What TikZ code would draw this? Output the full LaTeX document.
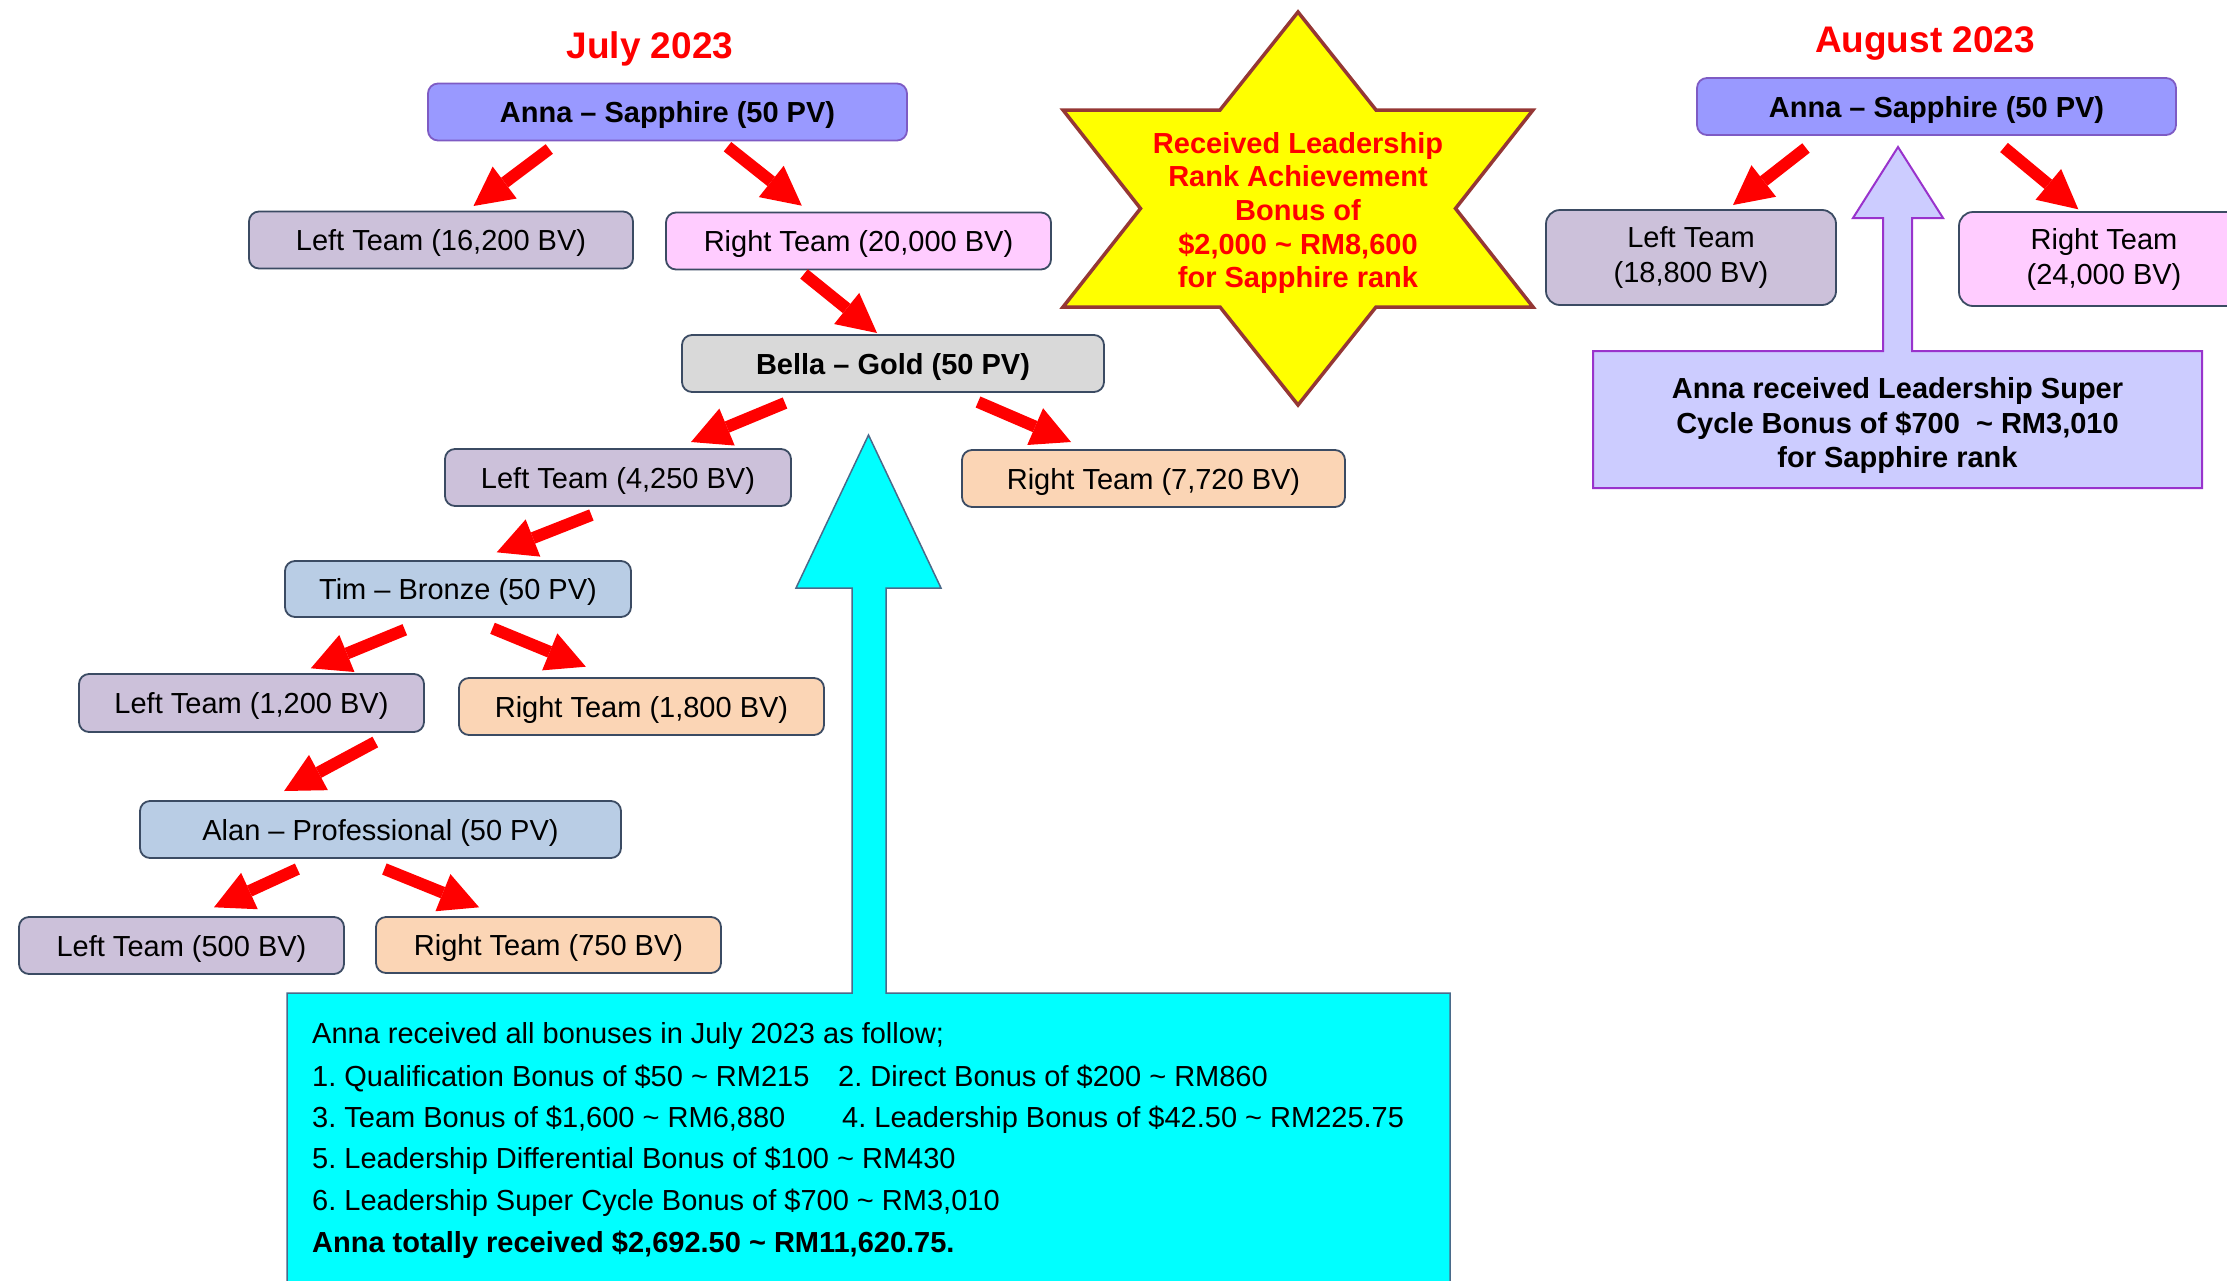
\documentclass[tikz,border=0pt]{standalone}
\usepackage{fontspec}
\setmainfont{Liberation Sans}
\usetikzlibrary{arrows.meta}
\frenchspacing
\definecolor{redA}{HTML}{FF0000}
\definecolor{annaF}{HTML}{9999FF}
\definecolor{annaL}{HTML}{7E5BC4}
\definecolor{leftF}{HTML}{CCC1DA}
\definecolor{pinkF}{HTML}{FFCCFF}
\definecolor{grayF}{HTML}{D9D9D9}
\definecolor{peachF}{HTML}{FBD5B5}
\definecolor{blueF}{HTML}{B9CDE5}
\definecolor{boxL}{HTML}{3B4B63}
\definecolor{cyanF}{HTML}{00FFFF}
\definecolor{cyanL}{HTML}{4A6A8A}
\definecolor{lavF}{HTML}{CCCCFF}
\definecolor{lavL}{HTML}{9933CC}
\definecolor{starF}{HTML}{FFFF00}
\definecolor{starL}{HTML}{953735}
\newcommand\fsn{\fontsize{29}{35}\selectfont}
\newcommand\fst{\fontsize{37}{44}\selectfont}
\begin{document}
\begin{tikzpicture}[x=1pt,y=-1pt,
  box/.style={draw=boxL, line width=1.8pt, rounded corners=10pt, inner sep=0pt,
    minimum height=57pt, font=\fsn, text height=21pt, text depth=0pt},
  box2/.style={draw=boxL, line width=1.8pt, rounded corners=14pt, inner sep=0pt,
    font=\fsn, align=center, minimum height=95pt, minimum width=290pt},
  annabox/.style={box, draw=annaL, fill=annaF, font=\fsn\bfseries, minimum width=479pt},
  title/.style={font=\fst\bfseries, text=redA, anchor=base, inner sep=0pt},
  txt/.style={font=\fsn, inner sep=0pt, anchor=base west},
  redarrow/.style={draw=redA, line width=12pt,
    -{Triangle[width=40pt,length=39pt,line width=0pt]}}
]
\useasboundingbox (0,0) rectangle (2227,1280);

% titles
\node[title] (julyT) at (650,58) {July 2023};
\node[title] (augT) at (1925,52) {August 2023};

% July tree
\node[annabox] (annaJ) at (667.5,112) {Anna -- Sapphire (50 PV)};
\node[box, fill=leftF, minimum width=384pt] (left1) at (441,240) {Left Team (16,200 BV)};
\node[box, fill=pinkF, minimum width=385pt] (right1) at (858.5,241) {Right Team (20,000 BV)};
\node[box, fill=grayF, minimum width=422pt, font=\fsn\bfseries] (bella) at (893,363.5) {Bella -- Gold (50 PV)};
\node[box, fill=leftF, minimum width=346pt] (left2) at (618,477.5) {Left Team (4,250 BV)};
\node[box, fill=peachF, minimum width=383pt] (right2) at (1153.5,478.5) {Right Team (7,720 BV)};
\node[box, fill=blueF, minimum width=346pt, minimum height=56pt] (tim) at (458,589) {Tim -- Bronze (50 PV)};
\node[box, fill=leftF, minimum width=345pt, minimum height=58pt] (left3) at (251.5,703) {Left Team (1,200 BV)};
\node[box, fill=peachF, minimum width=365pt] (right3) at (641.5,706.5) {Right Team (1,800 BV)};
\node[box, fill=blueF, minimum width=481pt] (alan) at (380.5,829.5) {Alan -- Professional (50 PV)};
\node[box, fill=leftF, minimum width=325pt] (left4) at (181.5,945.5) {Left Team (500 BV)};
\node[box, fill=peachF, minimum width=345pt, minimum height=56pt] (right4) at (548.5,945) {Right Team (750 BV)};

% August tree
\node[annabox] (annaA) at (1936.5,106.5) {Anna -- Sapphire (50 PV)};
\node[box2, fill=leftF] (leftA) at (1691,257.5) {Left Team\\(18,800 BV)};
\node[box2, fill=pinkF, minimum height=94pt] (rightA) at (2104,259) {Right Team\\(24,000 BV)};

% red arrows
\coordinate (a1s) at (549.3,149); \coordinate (a1e) at (473.5,206);
\coordinate (a2s) at (727.5,146.7); \coordinate (a2e) at (801.8,205.7);
\coordinate (a3s) at (804,274); \coordinate (a3e) at (877,333);
\coordinate (a4s) at (785,403); \coordinate (a4e) at (691,442);
\coordinate (a5s) at (978,402); \coordinate (a5e) at (1071,442);
\coordinate (a6s) at (591.4,515); \coordinate (a6e) at (496.7,552.3);
\coordinate (a7s) at (404.8,629.7); \coordinate (a7e) at (310.8,668.3);
\coordinate (a8s) at (492.5,628.3); \coordinate (a8e) at (585.8,666.7);
\coordinate (a9s) at (375.3,742); \coordinate (a9e) at (284.1,791);
\coordinate (a10s) at (297.4,869); \coordinate (a10e) at (214,907.3);
\coordinate (a11s) at (384.4,869); \coordinate (a11e) at (479.1,907.3);
\coordinate (a12s) at (1806,148); \coordinate (a12e) at (1733,205);
\coordinate (a13s) at (2004,147.5); \coordinate (a13e) at (2078.3,209.3);
\foreach \i in {1,...,13} {\draw[redarrow] (a\i s) -- (a\i e);}

% star
\path[fill=starF, draw=starL, line width=3.5pt, line join=miter]
  (1298,12) -- (1376,110) -- (1533,110) -- (1455.5,208.5) -- (1533,307) -- (1376,307)
  -- (1298,405) -- (1220,307) -- (1063,307) -- (1140.5,208.5) -- (1063,110) -- (1220,110) -- cycle;
\node[font=\fsn\bfseries, text=redA, align=center, inner sep=0pt,
  execute at begin node={\setlength{\baselineskip}{33.7pt}}] (starT) at (1298,213)
  {Received Leadership\\Rank Achievement\\Bonus of\\\$2,000 \textasciitilde{} RM8,600\\for Sapphire rank};

% lavender box with up arrow
\path[fill=lavF, draw=lavL, line width=2pt]
  (1593,351) -- (1883,351) -- (1883,218) -- (1853,218) -- (1898,147) -- (1943,218)
  -- (1912,218) -- (1912,351) -- (2202,351) -- (2202,488) -- (1593,488) -- cycle;
\node[font=\fsn\bfseries, align=center, inner sep=0pt,
  execute at begin node={\setlength{\baselineskip}{34.7pt}}] (lavT) at (1897.5,425.7)
  {Anna received Leadership Super\\Cycle Bonus of \$700\ \ \textasciitilde{} RM3,010\\for Sapphire rank};

% cyan box with up arrow
\path[fill=cyanF, draw=cyanL, line width=1.5pt]
  (287,1300) -- (287,993) -- (852,993) -- (852,588) -- (796,588) -- (868.5,435)
  -- (941,588) -- (886,588) -- (886,993) -- (1450,993) -- (1450,1300);
\node[txt] (c1) at (312,1043) {Anna received all bonuses in July 2023 as follow;};
\node[txt] (c2a) at (312,1086) {1. Qualification Bonus of \$50 \textasciitilde{} RM215};
\node[txt] (c2b) at (838,1086) {2. Direct Bonus of \$200 \textasciitilde{} RM860};
\node[txt] (c3a) at (312,1127) {3. Team Bonus of \$1,600 \textasciitilde{} RM6,880};
\node[txt] (c3b) at (842,1127) {4. Leadership Bonus of \$42.50 \textasciitilde{} RM225.75};
\node[txt] (c4) at (312,1168) {5. Leadership Differential Bonus of \$100 \textasciitilde{} RM430};
\node[txt] (c5) at (312,1210) {6. Leadership Super Cycle Bonus of \$700 \textasciitilde{} RM3,010};
\node[txt, font=\fsn\bfseries] (c6) at (312,1252) {Anna totally received \$2,692.50 \textasciitilde{} RM11,620.75.};
\end{tikzpicture}
\end{document}
